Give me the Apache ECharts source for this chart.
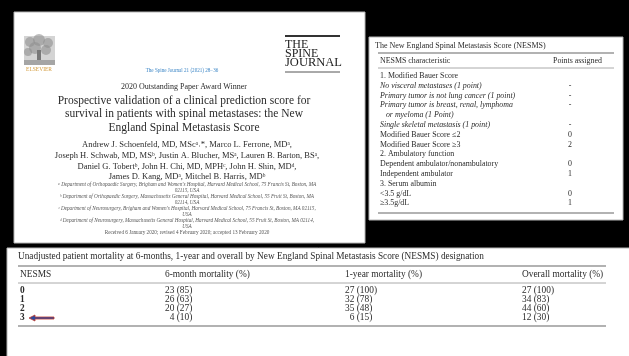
<!DOCTYPE html>
<html>
<head>
<meta charset="utf-8">
<script src="https://cdn.jsdelivr.net/npm/echarts@6/dist/echarts.min.js"></script>
<style>
  html, body { margin: 0; padding: 0; background: #000; }
  #chart { width: 629px; height: 356px; }
</style>
</head>
<body>
<div id="chart"></div>
<script>
// article front page
const titleLines = [
  'Prospective validation of a clinical prediction score for',
  'survival in patients with spinal metastases: the New',
  'England Spinal Metastasis Score'
];
const authorLines = [
  'Andrew J. Schoenfeld, MD, MScᵃ˒*, Marco L. Ferrone, MDᵃ,',
  'Joseph H. Schwab, MD, MSᵇ, Justin A. Blucher, MSᵃ, Lauren B. Barton, BSᵃ,',
  'Daniel G. Tobertᵇ, John H. Chi, MD, MPHᶜ, John H. Shin, MDᵈ,',
  'James D. Kang, MDᵃ, Mitchel B. Harris, MDᵇ'
];
const affilLines = [
  'ᵃ Department of Orthopaedic Surgery, Brigham and Women\'s Hospital, Harvard Medical School, 75 Francis St, Boston, MA',
  '02115, USA',
  'ᵇ Department of Orthopaedic Surgery, Massachusetts General Hospital, Harvard Medical School, 55 Fruit St, Boston, MA',
  '02114, USA',
  'ᶜ Department of Neurosurgery, Brigham and Women\'s Hospital, Harvard Medical School, 75 Francis St, Boston, MA 02115,',
  'USA',
  'ᵈ Department of Neurosurgery, Massachusetts General Hospital, Harvard Medical School, 55 Fruit St, Boston, MA 02114,',
  'USA',
  'Received 6 January 2020; revised 4 February 2020; accepted 13 February 2020'
];

// NESMS score table
const characteristics = [
  '1. Modified Bauer Score',
  'No visceral metastases (1 point)',
  'Primary tumor is not lung cancer (1 point)',
  'Primary tumor is breast, renal, lymphoma',
  '   or myeloma (1 Point)',
  'Single skeletal metastasis (1 point)',
  'Modified Bauer Score ≤2',
  'Modified Bauer Score ≥3',
  '2. Ambulatory function',
  'Dependent ambulator/nonambulatory',
  'Independent ambulator',
  '3. Serum albumin',
  '<3.5 g/dL',
  '≥3.5g/dL'
];
const italicRows = [false, true, true, true, true, true, false, false, false, false, false, false, false, false];
const pointsAssigned = ['', '-', '-', '-', '', '-', '0', '2', '', '0', '1', '', '0', '1'];

// mortality table
const nesmsScores = ['0', '1', '2', '3'];
const mortalityHeaders = ['NESMS', '6-month mortality (%)', '1-year mortality (%)', 'Overall mortality (%)'];
const sixMonthN = [23, 26, 20, 4];
const sixMonthPct = [85, 63, 27, 10];
const oneYearN = [27, 32, 35, 6];
const oneYearPct = [100, 78, 48, 15];
const overallN = [27, 34, 44, 12];
const overallPct = [100, 83, 60, 30];

const SERIF = '"Liberation Serif", "DejaVu Serif", serif';
const INK = '#2b2b2b';

function txt(x, y, s, size, o) {
  o = o || {};
  return {
    type: 'text', x: x, y: y, silent: true,
    style: {
      text: s, fontFamily: o.family || SERIF, fontSize: size,
      fontStyle: o.italic ? 'italic' : 'normal',
      fontWeight: o.bold ? 'bold' : 'normal',
      fill: o.color || INK, align: o.align || 'left', verticalAlign: 'middle'
    }
  };
}
function hline(x1, x2, y, w, c) {
  return { type: 'line', silent: true, shape: { x1: x1, y1: y, x2: x2, y2: y },
    style: { stroke: c || '#8a8a8a', lineWidth: w || 1 } };
}
function box(x, y, w, h) {
  return { type: 'rect', silent: true, shape: { x: x, y: y, width: w, height: h },
    style: { fill: '#fff', stroke: '#b5b5b5', lineWidth: 1 } };
}

let g = [];
// panels
g.push(box(14, 12, 351, 231));
g.push(box(369, 37, 254, 183));
g.push(box(7, 248, 630, 120));

// Elsevier logo
g.push({ type: 'rect', silent: true, shape: { x: 24, y: 36, width: 31, height: 29 }, style: { fill: '#d4d4d4' } });
[[30, 42, 5], [39, 40, 6], [48, 43, 5], [35, 48, 6], [46, 50, 5], [28, 52, 4]].forEach(function (c) {
  g.push({ type: 'circle', silent: true, shape: { cx: c[0], cy: c[1], r: c[2] }, style: { fill: '#8f8f8f', opacity: 0.6 } });
});
g.push({ type: 'rect', silent: true, shape: { x: 37, y: 50, width: 4, height: 12 }, style: { fill: '#777' } });
g.push({ type: 'rect', silent: true, shape: { x: 24, y: 60, width: 31, height: 5 }, style: { fill: '#a5a5a5' } });
g.push(txt(39, 70, 'ELSEVIER', 5.5, { align: 'center', color: '#d39a3a' }));

// journal logo
g.push(hline(285, 340, 36, 2, '#333'));
g.push(txt(285, 44.5, 'THE', 12, { color: '#222' }));
g.push(txt(285, 53.5, 'SPINE', 12, { color: '#222' }));
g.push(txt(285, 63, 'JOURNAL', 12.5, { color: '#222' }));
g.push(hline(285, 340, 72, 1, '#555'));

g.push(txt(182, 71, 'The Spine Journal 21 (2021) 28−36', 5.1, { align: 'center', color: '#3c86c6' }));
g.push(txt(184, 87, '2020 Outstanding Paper Award Winner', 8, { align: 'center' }));
titleLines.forEach(function (s, i) { g.push(txt(184, 101 + i * 13.3, s, 11.5, { align: 'center' })); });
authorLines.forEach(function (s, i) { g.push(txt(187, 145 + i * 10.7, s, 8.5, { align: 'center' })); });
affilLines.forEach(function (s, i) { g.push(txt(187, 185 + i * 6, s, 5.2, { align: 'center', italic: i < 8, color: '#555' })); });

// NESMS table
g.push(txt(375, 46, 'The New England Spinal Metastasis Score (NESMS)', 8));
g.push(hline(378, 614, 53, 1.5, '#999'));
g.push(txt(380, 61, 'NESMS characteristic', 7.9));
g.push(txt(553, 61, 'Points assigned', 7.9));
g.push(hline(378, 614, 68, 1, '#aaa'));
characteristics.forEach(function (s, i) {
  const y = 76 + i * 9.8;
  g.push(txt(380, y, s, 7.9, { italic: italicRows[i] }));
  if (pointsAssigned[i]) g.push(txt(570, y, pointsAssigned[i], 7.9, { align: 'center' }));
});
g.push(hline(378, 614, 213, 1.5, '#999'));

// mortality table
const colX = [20, 165, 345, 522];
g.push(txt(18, 257, 'Unadjusted patient mortality at 6-months, 1-year and overall by New England Spinal Metastasis Score (NESMS) designation', 9.3));
g.push(hline(18, 606, 266, 1.5, '#999'));
mortalityHeaders.forEach(function (s, j) { g.push(txt(colX[j], 275, s, 9.4)); });
g.push(hline(18, 606, 283, 1, '#aaa'));
function cell(n, p) { return (n < 10 ? '\u2007' : '') + n + ' (' + p + ')'; }
nesmsScores.forEach(function (s, i) {
  const y = 291 + i * 9;
  g.push(txt(colX[0], y, s, 9.4, { bold: true }));
  g.push(txt(colX[1], y, cell(sixMonthN[i], sixMonthPct[i]), 9.4));
  g.push(txt(colX[2], y, cell(oneYearN[i], oneYearPct[i]), 9.4));
  g.push(txt(colX[3], y, cell(overallN[i], overallPct[i]), 9.4));
});
g.push(hline(18, 606, 326, 1.5, '#999'));

// arrow pointing at NESMS 3
g.push({
  type: 'polygon', silent: true,
  shape: { points: [[29, 318], [35, 315], [35, 317], [54, 317], [54, 319], [35, 319], [35, 321]] },
  style: { fill: '#2a4aa0', stroke: '#c0392b', lineWidth: 0.8 }
});

const chart = echarts.init(document.getElementById('chart'), null, { renderer: 'canvas' });
chart.setOption({
  backgroundColor: '#000',
  animation: false,
  graphic: { elements: g }
});
</script>
</body>
</html>
